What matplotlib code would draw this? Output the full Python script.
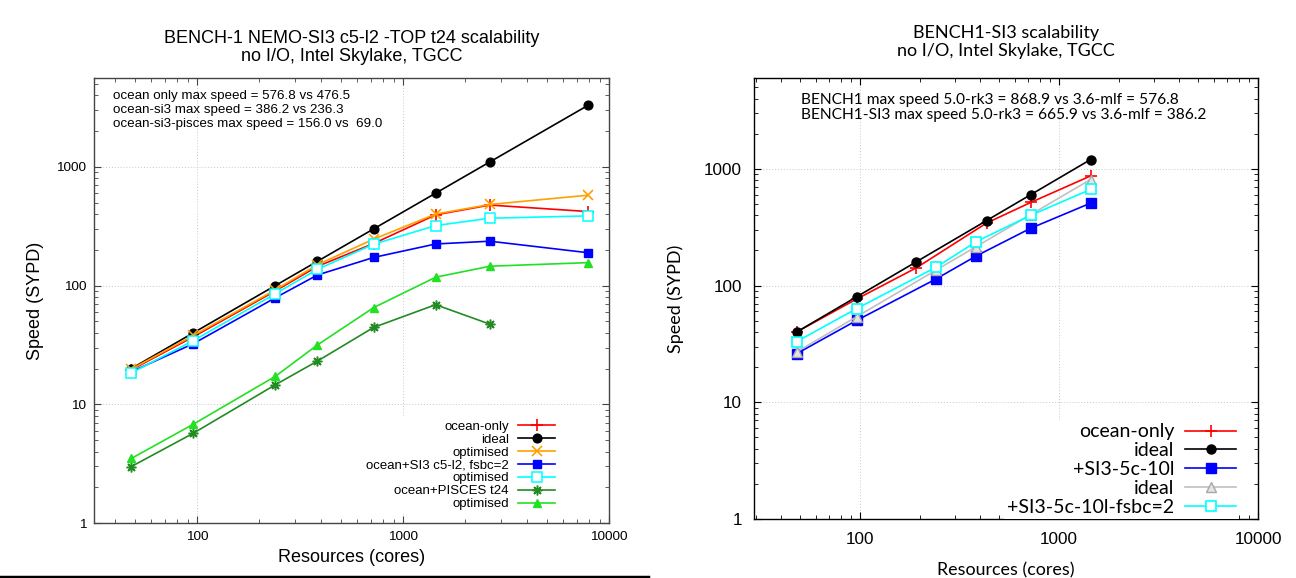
"""Scalability plots for the BENCH-1 NEMO configurations."""

import matplotlib

matplotlib.use("Agg")
import matplotlib.pyplot as plt
from matplotlib.lines import Line2D
from matplotlib.ticker import LogLocator, NullFormatter

# Left panel: NEMO-SI3 c5-l2 -TOP t24
cores_left = [48, 96, 240, 384, 720, 1440, 2640, 7920]
ocean_only = [19.5, 37.0, 90.0, 145.0, 226.0, 394.0, 476.5, 420.0]
ideal_left = [20, 40, 100, 160, 300, 600, 1100, 3300]
ocean_opt = [19.8, 38.0, 92.0, 150.0, 246.0, 400.0, 482.0, 576.8]
si3_fsbc = [18.8, 32.4, 78.9, 122.7, 172.5, 224.0, 236.3, 189.0]
si3_opt = [18.4, 34.4, 85.3, 137.0, 223.0, 320.0, 369.0, 386.2]
cores_pisces = [48, 96, 240, 384, 720, 1440, 2640]
pisces = [2.99, 5.71, 14.6, 23.1, 44.4, 69.0, 47.3]
pisces_opt = [3.5, 6.8, 17.2, 31.6, 65.2, 117.5, 145.5, 156.0]

left_notes = [
    "ocean only max speed = 576.8 vs 476.5",
    "ocean-si3 max speed = 386.2 vs 236.3",
    "ocean-si3-pisces max speed = 156.0 vs  69.0",
]

# Right panel: BENCH1-SI3, 5.0-rk3
cores_ocean = [48, 96, 192, 432, 720, 1440]
rk3_ocean = [40.0, 76.6, 142.0, 343.0, 515.0, 868.9]
rk3_ideal = [40, 80, 160, 360, 600, 1200]
cores_si3 = [48, 96, 240, 384, 720, 1440]
rk3_si3 = [26.1, 50.2, 113.5, 179.5, 309.6, 508.0]
rk3_si3_ideal = [27, 54, 135, 216, 405, 810]
rk3_si3_fsbc = [33.1, 63.4, 143.0, 238.0, 400.0, 665.9]

right_notes = [
    "BENCH1 max speed 5.0-rk3 = 868.9 vs 3.6-mlf = 576.8",
    "BENCH1-SI3 max speed 5.0-rk3 = 665.9 vs 3.6-mlf = 386.2",
]

RED = "#ff0000"
ORANGE = "#ffa000"
BLUE = "#0000ff"
CYAN = "#00ffff"
DARK_GREEN = "#228b22"
GREEN = "#22e022"
GREY = "#c0c0c0"
GRID = "#c8c8c8"
ASTERISK = (8, 2, 0)

W, H = 1296, 578


def style_axis(ax, xmin, ymax, tick_size, tick_pad, frame):
    ax.set_xscale("log")
    ax.set_yscale("log")
    ax.set_xlim(xmin, 10000)
    ax.set_ylim(1, ymax)
    ax.xaxis.set_major_locator(LogLocator(base=10, numticks=10))
    ax.yaxis.set_major_locator(LogLocator(base=10, numticks=10))
    ax.xaxis.set_minor_locator(LogLocator(base=10, subs=range(2, 10), numticks=20))
    ax.yaxis.set_minor_locator(LogLocator(base=10, subs=range(2, 10), numticks=20))
    ax.xaxis.set_minor_formatter(NullFormatter())
    ax.yaxis.set_minor_formatter(NullFormatter())
    ax.xaxis.set_major_formatter(lambda v, _pos: f"{v:g}")
    ax.yaxis.set_major_formatter(lambda v, _pos: f"{v:g}")
    ax.tick_params(which="both", direction="in", top=True, right=True,
                   colors=frame, labelcolor="black")
    ax.tick_params(which="major", length=5, width=0.8, labelsize=tick_size,
                   pad=tick_pad)
    ax.tick_params(which="minor", length=3, width=0.6)
    for label in ax.get_xticklabels() + ax.get_yticklabels():
        label.set_fontfamily("Liberation Sans")
    ax.grid(which="major", color=GRID, linestyle=(0, (1, 2)), linewidth=0.7)
    for spine in ax.spines.values():
        spine.set_color(frame)
        spine.set_linewidth(1.0)


def series(ax, x, y, color, marker, label, **kw):
    ax.plot(x, y, color=color, marker=marker, label=label, linewidth=1.2,
            markersize=kw.pop("ms", 6.5), **kw)


plt.rcParams["font.family"] = ["Liberation Sans", "DejaVu Sans"]
fig = plt.figure(figsize=(W / 100, H / 100), dpi=100, facecolor="white")

# ---- left panel -------------------------------------------------------
ax_l = fig.add_axes([94 / W, 1 - 523 / H, 515 / W, 445 / H])
style_axis(ax_l, 31.6, 5600, 9.7, 5.5, "#444444")

series(ax_l, cores_left, ocean_only, RED, "+", "ocean-only", ms=8, mew=1.2)
series(ax_l, cores_left, ideal_left, "black", "o", "ideal", ms=6.3)
series(ax_l, cores_left, ocean_opt, ORANGE, "x", "optimised", ms=7, mew=1.2)
series(ax_l, cores_left, si3_fsbc, BLUE, "s", "ocean+SI3 c5-l2, fsbc=2", ms=6.3)
series(ax_l, cores_left, si3_opt, CYAN, "s", "optimised", ms=6.7,
       mfc="white", mew=1.1)
series(ax_l, cores_pisces, pisces, DARK_GREEN, ASTERISK, "ocean+PISCES t24",
       ms=7, mew=1.1)
series(ax_l, cores_left, pisces_opt, GREEN, "^", "optimised", ms=6.3)

ax_l.set_title("BENCH-1 NEMO-SI3 c5-l2 -TOP t24 scalability\nno I/O, Intel Skylake, TGCC",
               fontsize=13, linespacing=1.12, pad=12)
ax_l.set_xlabel("Resources (cores)", fontsize=13)
ax_l.set_ylabel("Speed (SYPD)", fontsize=13)
ax_l.xaxis.set_label_coords(0.5, -0.058)
ax_l.yaxis.set_label_coords(-0.098, 0.5)
ax_l.text(0.037, 0.972, "\n".join(left_notes), transform=ax_l.transAxes,
          fontsize=9.6, va="top", ha="left", linespacing=1.19)

leg_l = ax_l.legend(loc="lower right", bbox_to_anchor=(0.903, 0.02),
                    markerfirst=False, fontsize=9.5, handlelength=2.8,
                    handletextpad=0.7, labelspacing=0.05, borderpad=0.3,
                    borderaxespad=0, frameon=True, fancybox=False,
                    framealpha=1, edgecolor="none", facecolor="white")

# ---- right panel ------------------------------------------------------
ax_r = fig.add_axes([754 / W, 1 - 519 / H, 504 / W, 441 / H])
style_axis(ax_r, 29.3, 6000, 12.3, 8.6, "black")
ax_r.tick_params(axis="x", which="major", pad=9.7)

series(ax_r, cores_ocean, rk3_ocean, RED, "+", "ocean-only", ms=9, mew=1.2)
series(ax_r, cores_ocean, rk3_ideal, "black", "o", "ideal", ms=6.5)
series(ax_r, cores_si3, rk3_si3, BLUE, "s", "+SI3-5c-10l", ms=6.5)
series(ax_r, cores_si3, rk3_si3_ideal, GREY, "^", "ideal", ms=6.5,
       mfc="#e4e4e4", mec="#a8a8a8")
series(ax_r, cores_si3, rk3_si3_fsbc, CYAN, "s", "+SI3-5c-10l-fsbc=2", ms=7,
       mfc="white", mew=1.2)

lato = ["Lato", "DejaVu Sans"]
ax_r.set_title("BENCH1-SI3 scalability\nno I/O, Intel Skylake, TGCC",
               fontsize=13, family=lato, linespacing=1.15, pad=16)
ax_r.set_xlabel("Resources (cores)", fontsize=12.9, family=lato)
ax_r.set_ylabel("Speed (SYPD)", fontsize=12.9, family=lato)
ax_r.xaxis.set_label_coords(0.5, -0.098)
ax_r.yaxis.set_label_coords(-0.139, 0.5)
ax_r.text(0.093, 0.966, "\n".join(right_notes), transform=ax_r.transAxes,
          fontsize=11.2, family=lato, va="top", ha="left", linespacing=1.1)

leg_r = ax_r.legend(loc="lower right", bbox_to_anchor=(0.962, 0.0),
                    markerfirst=False, prop={"family": lato, "size": 14},
                    handlelength=2.6, handletextpad=0.58, labelspacing=0.1,
                    borderpad=0.15, borderaxespad=0, frameon=True,
                    fancybox=False, framealpha=1, edgecolor="none",
                    facecolor="white")

# rule under the left panel
fig.add_artist(Line2D([0, 648 / W], [1 - 577 / H, 1 - 577 / H],
                      transform=fig.transFigure, color="black", linewidth=2.5))

fig.savefig("out.png", dpi=100, facecolor="white")
